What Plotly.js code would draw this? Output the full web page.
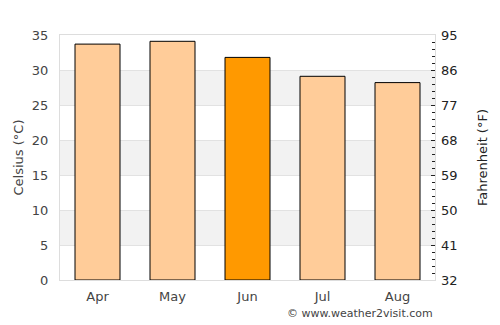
<!DOCTYPE html>
<html>
<head>
<meta charset="utf-8">
<script src="https://cdn.plot.ly/plotly-3.0.1.min.js"></script>
<style>html,body{margin:0;padding:0;background:#fff;}#chart{width:500px;height:325px;}</style>
</head>
<body>
<div id="chart"></div>
<script>
const months = ["Apr", "May", "Jun", "Jul", "Aug"];
const celsius = [33.7, 34.1, 31.8, 29.1, 28.2];
const highlightMonth = "Jun";
const celsiusTicks = [0, 5, 10, 15, 20, 25, 30, 35];
const fahrenheitTicks = [32, 41, 50, 59, 68, 77, 86, 95];

const colors = months.map(m => m === highlightMonth ? "#ff9900" : "#ffcc99");

// alternating shaded bands between gridlines
const shapes = [];
for (let i = 1; i < celsiusTicks.length - 1; i += 2) {
  shapes.push({type: "rect", xref: "paper", yref: "y", x0: 0, x1: 1,
    y0: celsiusTicks[i], y1: celsiusTicks[i + 1],
    fillcolor: "#f2f2f2", line: {width: 0}, layer: "below"});
}

const font = "DejaVu Sans, sans-serif";
const data = [
  {type: "bar", x: months, y: celsius, marker: {color: colors, line: {color: "#000", width: 1}},
   hoverinfo: "none"},
  {type: "scatter", x: months, y: celsius.map(c => c * 9 / 5 + 32), yaxis: "y2",
   mode: "markers", marker: {opacity: 0}, hoverinfo: "none", showlegend: false}
];

const layout = {
  width: 500, height: 325,
  margin: {l: 60, r: 65, t: 35, b: 45},
  paper_bgcolor: "#fff", plot_bgcolor: "rgba(0,0,0,0)",
  showlegend: false,
  bargap: 0.4,
  font: {family: font, size: 13, color: "#444"},
  shapes: shapes,
  xaxis: {showline: true, mirror: true, linecolor: "#dddddd", linewidth: 1,
    showgrid: false, ticks: "", tickfont: {size: 13, color: "#444"}, ticklabelstandoff: 4,
    fixedrange: true},
  yaxis: {range: [0, 35], tickvals: celsiusTicks, showgrid: true, gridcolor: "#e2e2e2",
    zeroline: false, showline: true, mirror: true, linecolor: "#dddddd", ticks: "",
    ticklabelstandoff: 8, tickfont: {size: 13, color: "#444"},
    title: {text: "Celsius (°C)", font: {size: 13, color: "#444"}, standoff: 5}},
  yaxis2: {overlaying: "y", side: "right", range: [32, 95], tickvals: fahrenheitTicks,
    showgrid: false, zeroline: false, ticks: "inside", ticklen: 4, tickcolor: "#222",
    minor: {dtick: 1.8, tick0: 32, ticks: "inside", ticklen: 3, tickcolor: "#222", showgrid: false},
    ticklabelstandoff: 5, tickfont: {size: 13, color: "#222"},
    title: {text: "Fahrenheit (°F)", font: {size: 13, color: "#222"}, standoff: 21}},
  annotations: [{xref: "paper", yref: "paper", x: 1, y: -0.135, xanchor: "right", yanchor: "middle",
    text: "© www.weather2visit.com", showarrow: false, font: {size: 11, color: "#444"}}]
};

Plotly.newPlot("chart", data, layout, {displayModeBar: false, staticPlot: true});
</script>
</body>
</html>
